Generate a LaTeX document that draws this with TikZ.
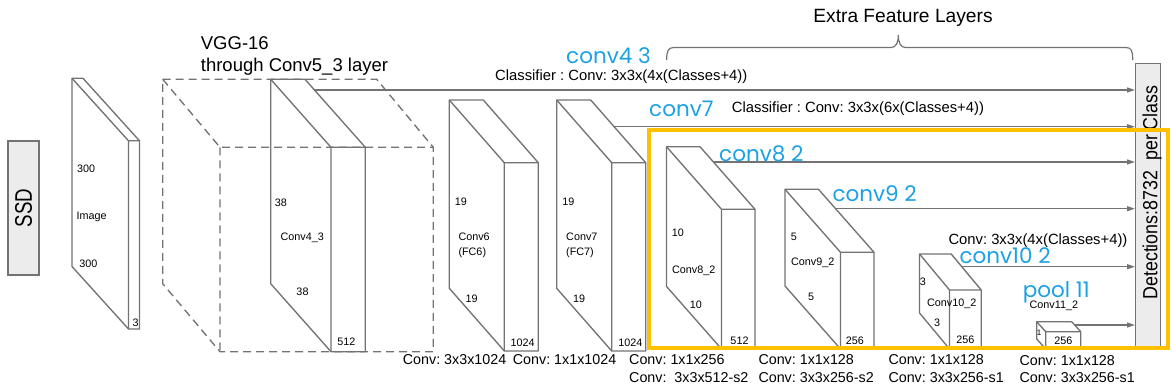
\documentclass[tikz,border=0pt]{standalone}
\usepackage{fontspec}
\setmainfont{Liberation Sans}
\newfontfamily\bluefont{Poppins}
\usetikzlibrary{calc,arrows.meta}

\definecolor{edgegray}{RGB}{115,115,115}
\definecolor{linegray}{RGB}{115,115,115}
\definecolor{panelgray}{RGB}{236,236,236}
\definecolor{hiyellow}{RGB}{255,192,0}
\definecolor{labelblue}{RGB}{28,160,230}

\tikzset{
  slab/.style={draw=edgegray, fill=white, line width=1.35pt, line join=round},
  vggbox/.style={draw=edgegray, line width=1.35pt, dash pattern=on 8pt off 5pt},
  conn/.style={draw=linegray, line width=1.3pt, -{Triangle[length=8pt,width=5pt]}},
  bracestyle/.style={draw=linegray, line width=1.2pt},
  txt/.style={inner sep=0pt, text height=0.716em, text depth=0pt},
  dimlbl/.style={txt, font=\fontsize{10.8}{12}\selectfont},
  oplbl/.style={txt, font=\fontsize{14.3}{16}\selectfont, anchor=west},
  clslbl/.style={txt, font=\fontsize{14.8}{16}\selectfont, anchor=west},
  titlelbl/.style={txt, font=\fontsize{18.5}{21}\selectfont, anchor=west},
  layerlbl/.style={inner sep=0pt, anchor=base west, text=labelblue,
    font=\bluefont\fontsize{21.5}{24}\selectfont},
  sidebox/.style={draw=edgegray, fill=panelgray, line width=1.3pt, inner sep=0pt},
  highlight/.style={draw=hiyellow, line width=4.5pt},
}

% feature-map slab: name, left x, top y, depth dx, depth dy, thickness, bottom y
\newcommand\featslab[7]{%
  \coordinate (#1-A) at (#2,#3);
  \coordinate (#1-B) at ($(#1-A)+(#6,0)$);
  \coordinate (#1-C) at ($(#1-A)+(#4,#5)$);
  \coordinate (#1-D) at ($(#1-C)+(#6,0)$);
  \coordinate (#1-F) at ($(#1-C)+(0,{#7-#3-#5})$);
  \coordinate (#1-E) at ($(#1-F)+(#6,0)$);
  \coordinate (#1-G) at ($(#1-F)-(#4,#5)$);
  \path[slab] (#1-A) -- (#1-B) -- (#1-D) -- (#1-E) -- (#1-F) -- (#1-G) -- cycle;
  \draw[slab, fill=none] (#1-A) -- (#1-C) -- (#1-D) (#1-C) -- (#1-F);
}

\begin{document}
\frenchspacing
\begin{tikzpicture}[x=1pt, y=-1pt]
\useasboundingbox (0,0) rectangle (1171,391);

% SSD tag on the left
\node[sidebox, rotate=90, minimum width=134pt, minimum height=31pt,
      font=\fontsize{24}{26}\selectfont] (ssd) at (23.5,208) {\scalebox{0.78}[1]{SSD}};

% detections panel on the right
\node[sidebox, anchor=north west, minimum width=25pt, minimum height=285pt] (det) at (1135,62.7) {};
\node[rotate=90, inner sep=0pt, font=\fontsize{20.5}{22}\selectfont] (dettext) at (1152,192.5)
  {\scalebox{0.87}[1]{Detections:8732\ \ per Class}};

% input image
\featslab{img}{72}{78.3}{56.5}{62.5}{11}{329}

% VGG-16 base
\featslab{c43}{270.7}{79.3}{60.3}{68}{34.3}{351.7}
\coordinate (vgg-A) at (162.7,79.3);
\coordinate (vgg-B) at (376.7,79.3);
\coordinate (vgg-C) at (220,147.3);
\coordinate (vgg-D) at (433.3,147.3);
\coordinate (vgg-E) at (433.3,351.7);
\coordinate (vgg-F) at (220,351.7);
\coordinate (vgg-G) at (162.7,283.7);
\draw[vggbox] (vgg-A) -- (vgg-B) -- (vgg-D) -- (vgg-E) -- (vgg-F) -- (vgg-G) -- cycle;
\draw[vggbox] (vgg-A) -- (vgg-C) -- (vgg-D) (vgg-C) -- (vgg-F);

% fully connected layers turned convolutional
\featslab{c6}{449.3}{100}{55}{62.7}{34}{351}
\featslab{c7}{556.7}{100}{55}{62.7}{34}{351}

% extra feature layers
\featslab{c82}{666.5}{146.7}{55}{62.6}{33.5}{349}
\featslab{c92}{785}{189.3}{55.5}{63}{33.5}{349}
\featslab{c102}{919.5}{254}{30}{36}{31.7}{349}
\featslab{p11}{1036.7}{321.7}{9}{10}{35}{349}

% classifier outputs
\coordinate (c43-out) at ($(c43-B)!0.157!(c43-D)$);
\coordinate (c7-out) at ($(c7-B)!0.426!(c7-D)$);
\coordinate (c82-out) at ($(c82-B)!0.244!(c82-D)$);
\coordinate (c92-out) at ($(c92-B)!0.308!(c92-D)$);
\coordinate (c102-out) at ($(c102-B)!0.353!(c102-D)$);
\coordinate (p11-out) at ($(p11-B)!0.33!(p11-D)$);
\foreach \src in {c43,c7,c82,c92,c102,p11}
  \draw[conn] (\src-out) -- (\src-out -| det.west);

% brace over the extra layers
\draw[bracestyle] (666.7,60) .. controls (666.7,51) and (668,47.5) .. (674,47.5)
  -- (891,47.5) .. controls (896,47.5) and (898.3,43) .. (898.3,35)
  .. controls (898.3,43) and (900.6,47.5) .. (905.6,47.5)
  -- (1125.7,47.5) .. controls (1131.7,47.5) and (1132.7,51) .. (1132.7,60);
\node[txt, font=\fontsize{19.2}{22}\selectfont] (extra) at (903,19.3) {Extra Feature Layers};

% highlight of the added layers
\draw[highlight] (649,130) rectangle (1168,348);

% titles
\node[titlelbl] (vggt1) at (200.7,45.5) {VGG-16};
\node[titlelbl] (vggt2) at (200.7,68.3) {through Conv5\_3 layer};

% classifier notes
\node[clslbl] (cls1) at (495,76.8) {Classifier : Conv: 3x3x(4x(Classes+4))};
\node[clslbl] (cls2) at (731.7,108.8) {Classifier : Conv: 3x3x(6x(Classes+4))};
\node[clslbl] (cls3) at (948.3,241.3) {Conv: 3x3x(4x(Classes+4))};

% source layer names
\node[layerlbl] (n43) at (566,63.3) {conv4 3};
\node[layerlbl] (n7) at (649,116.7) {conv7};
\node[layerlbl] (n82) at (719,161.7) {conv8 2};
\node[layerlbl] (n92) at (832.3,201.7) {conv9 2};
\node[layerlbl] (n102) at (959.3,263.3) {conv10 2};
\node[layerlbl] (n11) at (1022.7,297.5) {pool 11};

% sizes inside the slabs
\node[dimlbl] (img-h) at (86.2,169.3) {300};
\node[dimlbl] (img-n) at (91.7,215.7) {Image};
\node[dimlbl] (img-w) at (88.3,264.3) {300};
\node[dimlbl] (img-d) at (135.7,323.3) {3};

\node[dimlbl] (c43-h) at (280.8,202.7) {38};
\node[dimlbl] (c43-n) at (302.3,237.3) {Conv4\_3};
\node[dimlbl] (c43-w) at (302.5,291.7) {38};
\node[dimlbl] (c43-d) at (346.3,342.3) {512};

\node[dimlbl] (c6-h) at (460.8,202.3) {19};
\node[dimlbl, anchor=west] (c6-n) at (458.3,236.7) {Conv6};
\node[dimlbl, anchor=west] (c6-f) at (458.3,252.3) {(FC6)};
\node[dimlbl] (c6-w) at (471.7,299.3) {19};
\node[dimlbl] (c6-d) at (522.7,342.7) {1024};

\node[dimlbl] (c7-h) at (568.3,202.3) {19};
\node[dimlbl, anchor=west] (c7-n) at (566,236.7) {Conv7};
\node[dimlbl, anchor=west] (c7-f) at (566,252.3) {(FC7)};
\node[dimlbl] (c7-w) at (579.2,299.3) {19};
\node[dimlbl] (c7-d) at (630.3,342.7) {1024};

\node[dimlbl] (c82-h) at (677.8,233.3) {10};
\node[dimlbl] (c82-n) at (693.8,270) {Conv8\_2};
\node[dimlbl] (c82-w) at (695.8,305) {10};
\node[dimlbl] (c82-d) at (739.5,340.7) {512};

\node[dimlbl] (c92-h) at (793.8,236.7) {5};
\node[dimlbl] (c92-n) at (812.8,261.7) {Conv9\_2};
\node[dimlbl] (c92-w) at (811.2,296.7) {5};
\node[dimlbl] (c92-d) at (854.8,340.7) {256};

\node[dimlbl] (c102-h) at (922.8,281.7) {3};
\node[dimlbl] (c102-n) at (951.7,302.7) {Conv10\_2};
\node[dimlbl] (c102-w) at (937.2,323.3) {3};
\node[dimlbl] (c102-d) at (965.3,340) {256};

\node[dimlbl, font=\fontsize{8}{9}\selectfont] (p11-h) at (1039,331.7) {1};
\node[dimlbl] (p11-d) at (1063.3,341) {256};
\node[dimlbl] (p11-n) at (1053.8,305) {Conv11\_2};

% layer operations along the bottom
\node[oplbl] (op6) at (402.7,361) {Conv: 3x3x1024};
\node[oplbl] (op7) at (512.7,361) {Conv: 1x1x1024};
\node[oplbl] (op8a) at (629,361) {Conv: 1x1x256};
\node[oplbl] (op8b) at (629,378.8) {Conv:\ \ 3x3x512-s2};
\node[oplbl] (op9a) at (758.3,361) {Conv: 1x1x128};
\node[oplbl] (op9b) at (758.3,378.8) {Conv: 3x3x256-s2};
\node[oplbl] (op10a) at (888.3,361) {Conv: 1x1x128};
\node[oplbl] (op10b) at (888.3,378.8) {Conv: 3x3x256-s1};
\node[oplbl] (op11a) at (1019.3,361.5) {Conv: 1x1x128};
\node[oplbl] (op11b) at (1019.3,379.3) {Conv: 3x3x256-s1};
\end{tikzpicture}
\end{document}
